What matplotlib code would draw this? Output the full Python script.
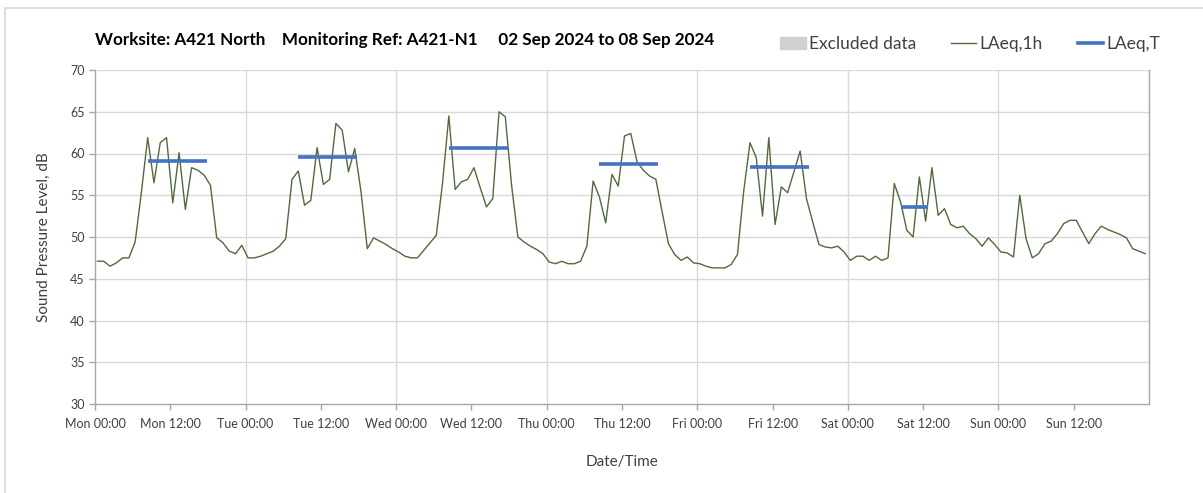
import matplotlib.pyplot as plt
from matplotlib.patches import Rectangle
from matplotlib.lines import Line2D

# hourly LAeq,1h values, Mon 00:00 .. Sun 23:00
laeq_1h = [
    # Mon
    47.1, 47.1, 46.5, 46.9, 47.5, 47.5, 49.4, 55.4, 61.9, 56.5, 61.3, 61.9,
    54.1, 60.1, 53.3, 58.3, 58.0, 57.4, 56.2, 49.9, 49.3, 48.3, 48.0, 49.0,
    # Tue
    47.5, 47.5, 47.7, 48.0, 48.3, 48.9, 49.8, 56.9, 57.9, 53.8, 54.4, 60.7,
    56.3, 56.9, 63.6, 62.8, 57.8, 60.6, 55.4, 48.6, 49.9, 49.5, 49.1, 48.6,
    # Wed
    48.2, 47.7, 47.5, 47.5, 48.4, 49.3, 50.2, 56.5, 64.5, 55.7, 56.6, 56.9,
    58.3, 55.9, 53.6, 54.6, 65.0, 64.4, 56.2, 50.0, 49.4, 48.9, 48.5, 48.0,
    # Thu
    47.0, 46.8, 47.1, 46.8, 46.8, 47.1, 48.9, 56.7, 54.8, 51.7, 57.5, 56.1,
    62.1, 62.4, 59.0, 58.0, 57.3, 56.9, 53.0, 49.2, 47.9, 47.2, 47.6, 46.9,
    # Fri
    46.8, 46.5, 46.3, 46.3, 46.3, 46.7, 47.9, 55.5, 61.3, 59.5, 52.5, 61.9,
    51.5, 56.0, 55.3, 57.8, 60.3, 54.6, 51.8, 49.1, 48.8, 48.7, 48.9, 48.2,
    # Sat
    47.2, 47.7, 47.7, 47.2, 47.7, 47.2, 47.5, 56.4, 54.2, 50.8, 50.0, 57.2,
    51.9, 58.3, 52.6, 53.4, 51.5, 51.1, 51.3, 50.4, 49.8, 48.9, 49.9, 49.1,
    # Sun
    48.2, 48.1, 47.6, 55.0, 49.8, 47.5, 48.0, 49.2, 49.5, 50.4, 51.6, 52.0,
    52.0, 50.6, 49.2, 50.4, 51.3, 50.9, 50.6, 50.3, 49.9, 48.6, 48.3, 48.0,
]

# LAeq,T per day: (day index, start hour, end hour, level)
laeq_t_days = [0, 1, 2, 3, 4, 5]
laeq_t_start = [8, 8, 8, 8, 8, 8]
laeq_t_end = [18, 18, 18, 18, 18, 13]
laeq_t_level = [59.1, 59.6, 60.7, 58.8, 58.4, 53.6]

day_names = ['Mon', 'Tue', 'Wed', 'Thu', 'Fri', 'Sat', 'Sun']
tick_labels = [d + t for d in day_names for t in [' 00:00', ' 12:00']]

title = 'Worksite: A421 North    Monitoring Ref: A421-N1     02 Sep 2024 to 08 Sep 2024'

green = '#4f6b3a'
blue = '#4472c4'
grid_c = '#d9d9d9'
axis_c = '#a6a6a6'
text_c = '#404040'

plt.rcParams['font.family'] = ['Lato', 'DejaVu Sans']

fig = plt.figure(figsize=(12.03, 4.93), dpi=100)
ax = fig.add_axes([95 / 1203, 1 - 404 / 493, (1149 - 95) / 1203, (404 - 70) / 493])

# light frame around the chart
fig.patches.append(Rectangle((5 / 1203, -0.1), 1.2, 1 - 8 / 493 + 0.1,
                             transform=fig.transFigure, fill=False,
                             edgecolor='#d9d9d9', lw=1.2))

off = 0.4  # hourly points sit a little after the hour
hours = [h + off for h in range(len(laeq_1h))]
ax.plot(hours, laeq_1h, color=green, lw=1.0, zorder=3)

for d, s, e, v in zip(laeq_t_days, laeq_t_start, laeq_t_end, laeq_t_level):
    ax.hlines(v, d * 24 + s + off, d * 24 + e - 0.2, color=blue, lw=2.6, zorder=4)

ax.set_xlim(0, 168)
ax.set_ylim(30, 70)
ax.set_yticks(range(30, 71, 5))
ax.set_xticks(range(0, 168, 12))
ax.set_xticklabels(tick_labels)

# vertical grid only at midnight
for x in range(24, 168, 24):
    ax.axvline(x, color=grid_c, lw=1.0, zorder=1)
for y in range(35, 71, 5):
    ax.axhline(y, color=grid_c, lw=1.0, zorder=1)

for side in ['left', 'bottom', 'right']:
    ax.spines[side].set_color(axis_c)
    ax.spines[side].set_linewidth(1.0)
ax.spines['top'].set_visible(False)

ax.tick_params(axis='both', colors=axis_c, length=4, width=1.0,
               labelcolor=text_c, labelsize=9)
ax.tick_params(axis='x', pad=6)

ax.set_ylabel('Sound Pressure Level, dB', fontsize=11, color=text_c, labelpad=14)
ax.set_xlabel('Date/Time', fontsize=11, color=text_c, labelpad=18)

fig.text(95 / 1203, 1 - 40 / 493, title, fontsize=12.3, fontweight='bold',
         color='black', va='center', ha='left')

handles = [Rectangle((0, 0), 1, 1, color='#d0d0d0'),
           Line2D([], [], color=green, lw=1.0),
           Line2D([], [], color=blue, lw=2.6)]
fig.legend(handles, ['Excluded data', 'LAeq,1h', 'LAeq,T'], ncol=3,
           loc='center right', bbox_to_anchor=(1160 / 1203, 1 - 44 / 493),
           frameon=False, fontsize=12.5, handlelength=1.45, handletextpad=0.2,
           columnspacing=2.0, labelcolor=text_c, borderpad=0, borderaxespad=0)

fig.savefig('out.png', dpi=100)
